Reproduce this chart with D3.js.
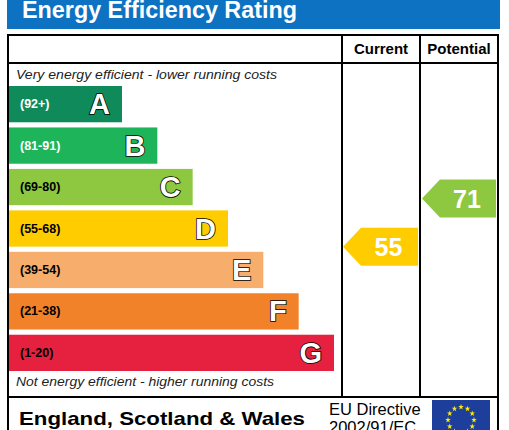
<!DOCTYPE html>
<html>
<head>
<meta charset="utf-8">
<script src="https://cdn.jsdelivr.net/npm/d3@7/dist/d3.min.js"></script>
<style>
  body { margin: 0; background: #fff; }
  svg { display: block; }
  text { font-family: "Liberation Sans", Arial, sans-serif; }
</style>
</head>
<body>
<div id="chart"></div>
<script>
// bands of the rating, best first
let letters = ['A', 'B', 'C', 'D', 'E', 'F', 'G'];
let ranges = ['(92+)', '(81-91)', '(69-80)', '(55-68)', '(39-54)', '(21-38)', '(1-20)'];
let bandMin = [92, 81, 69, 55, 39, 21, 1];
let bandMax = [100, 91, 80, 68, 54, 38, 20];
let colors = ['#0f8b5b', '#1db45a', '#8dc840', '#ffcc00', '#f7ad6c', '#f1822a', '#e6203f'];

// ratings of the property
let currentRating = 55;
let potentialRating = 71;

let width = 509, height = 430;

let svg = d3.select('#chart').append('svg')
    .attr('width', width)
    .attr('height', height);

// table frame
let tLeft = 8, tRight = 498, tTop = 35, headerBottom = 63, bodyBottom = 397;
let colCurrent = 342, colPotential = 420;

// title bar
svg.append('rect')
    .attr('x', 7).attr('y', 0)
    .attr('width', 493).attr('height', 29)
    .attr('fill', '#0d72c2');

svg.append('text')
    .attr('x', 22).attr('y', 18)
    .attr('fill', '#fff')
    .attr('font-size', 24)
    .attr('font-weight', 'bold')
    .attr('textLength', 275).attr('lengthAdjust', 'spacingAndGlyphs')
    .text('Energy Efficiency Rating');

// scales
let y = d3.scaleBand()
    .domain(letters)
    .range([86, 371])
    .paddingInner(0.125)
    .paddingOuter(0);

let barRight = d3.scaleLinear()
    .domain([0, letters.length - 1])
    .range([122, 334]);

// lines of the table
let lines = svg.append('g')
    .attr('stroke', '#000')
    .attr('stroke-width', 2)
    .attr('fill', 'none');

lines.append('line').attr('x1', tLeft).attr('x2', tLeft).attr('y1', tTop - 1).attr('y2', height);
lines.append('line').attr('x1', tRight).attr('x2', tRight).attr('y1', tTop - 1).attr('y2', height);
lines.append('line').attr('x1', tLeft).attr('x2', tRight).attr('y1', tTop).attr('y2', tTop);
lines.append('line').attr('x1', tLeft).attr('x2', tRight).attr('y1', headerBottom).attr('y2', headerBottom);
lines.append('line').attr('x1', tLeft).attr('x2', tRight).attr('y1', bodyBottom).attr('y2', bodyBottom);
lines.append('line').attr('x1', colCurrent).attr('x2', colCurrent).attr('y1', tTop).attr('y2', bodyBottom);
lines.append('line').attr('x1', colPotential).attr('x2', colPotential).attr('y1', tTop).attr('y2', bodyBottom);

// column headers
svg.append('text')
    .attr('x', (colCurrent + colPotential) / 2).attr('y', 54)
    .attr('text-anchor', 'middle')
    .attr('font-size', 15).attr('font-weight', 'bold')
    .text('Current');

svg.append('text')
    .attr('x', (colPotential + tRight) / 2).attr('y', 54)
    .attr('text-anchor', 'middle')
    .attr('font-size', 15).attr('font-weight', 'bold')
    .text('Potential');

// captions
svg.append('text')
    .attr('x', 16).attr('y', 79)
    .attr('font-size', 13.5).attr('font-style', 'italic')
    .attr('fill', '#222')
    .attr('textLength', 261).attr('lengthAdjust', 'spacingAndGlyphs')
    .text('Very energy efficient - lower running costs');

svg.append('text')
    .attr('x', 16).attr('y', 386)
    .attr('font-size', 13.5).attr('font-style', 'italic')
    .attr('fill', '#222')
    .attr('textLength', 258).attr('lengthAdjust', 'spacingAndGlyphs')
    .text('Not energy efficient - higher running costs');

// bars
let bands = svg.selectAll('.band')
    .data(letters)
    .enter().append('g')
    .attr('class', 'band');

bands.append('rect')
    .attr('x', tLeft + 1)
    .attr('y', d => y(d))
    .attr('width', (d, i) => barRight(i) - tLeft - 1)
    .attr('height', y.bandwidth())
    .attr('fill', (d, i) => colors[i]);

bands.append('text')
    .attr('x', 20)
    .attr('y', d => y(d) + y.bandwidth() / 2 + 4)
    .attr('font-size', 12.5).attr('font-weight', 'bold')
    .attr('fill', (d, i) => i < 2 ? '#fff' : '#000')
    .text((d, i) => ranges[i]);

bands.append('text')
    .attr('x', (d, i) => barRight(i) - 12)
    .attr('y', d => y(d) + y.bandwidth() / 2 + 10)
    .attr('text-anchor', 'end')
    .attr('font-size', 29).attr('font-weight', 'bold')
    .attr('fill', '#fff')
    .attr('stroke', '#000').attr('stroke-width', 1.6)
    .attr('paint-order', 'stroke')
    .text(d => d);

function ratingIndex(value){
    return bandMin.findIndex(m => value >= m);
}

// centre of an arrow for a rating, placed inside its band
function ratingY(value){
    let i = ratingIndex(value);
    let frac = (bandMax[i] - value) / (bandMax[i] - bandMin[i]);
    return y(letters[i]) + frac * y.bandwidth();
}

function drawArrow(value, x0, x1){
    let cy = ratingY(value);
    let h = 38, tip = 18;
    let pts = [[x0, cy], [x0 + tip, cy - h / 2], [x1, cy - h / 2], [x1, cy + h / 2], [x0 + tip, cy + h / 2]];
    svg.append('path')
        .attr('d', d3.line()(pts) + 'Z')
        .attr('fill', colors[ratingIndex(value)]);
    svg.append('text')
        .attr('x', (x0 + tip + x1) / 2 - 1)
        .attr('y', cy + 9)
        .attr('text-anchor', 'middle')
        .attr('font-size', 25).attr('font-weight', 'bold')
        .attr('fill', '#fff')
        .text(value);
}

drawArrow(currentRating, colCurrent + 1, colPotential - 2);
drawArrow(potentialRating, colPotential + 2, tRight - 2);

// footer
svg.append('text')
    .attr('x', 19).attr('y', 425)
    .attr('font-family', '"DejaVu Sans", Verdana, sans-serif')
    .attr('font-size', 19).attr('font-weight', 'bold')
    .attr('textLength', 286).attr('lengthAdjust', 'spacingAndGlyphs')
    .text('England, Scotland & Wales');

svg.append('text')
    .attr('x', 329).attr('y', 415)
    .attr('font-size', 16.5)
    .text('EU Directive');

svg.append('text')
    .attr('x', 329).attr('y', 433)
    .attr('font-size', 16.5)
    .text('2002/91/EC');

// EU flag
svg.append('rect')
    .attr('x', 432).attr('y', 400)
    .attr('width', 58).attr('height', 40)
    .attr('fill', '#1d3f9b');

let star = d3.symbol().type(d3.symbolStar).size(10);
svg.selectAll('.star')
    .data(d3.range(12))
    .enter().append('path')
    .attr('class', 'star')
    .attr('d', star)
    .attr('fill', '#ffeb00')
    .attr('transform', d => {
        let a = d / 12 * 2 * Math.PI;
        return `translate(${461 + 13 * Math.sin(a)},${420 - 13 * Math.cos(a)})`;
    });
</script>
</body>
</html>
